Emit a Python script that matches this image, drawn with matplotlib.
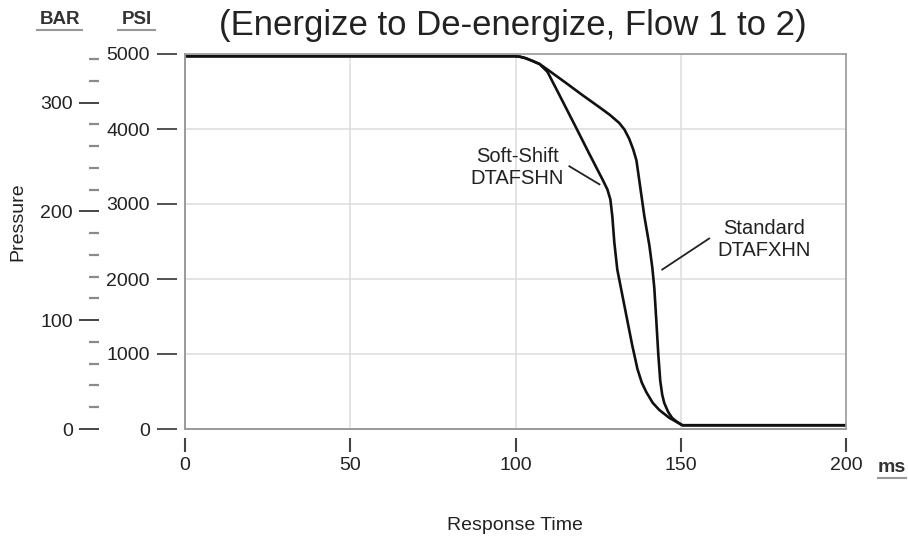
import matplotlib.pyplot as plt
from matplotlib.lines import Line2D
from matplotlib.ticker import MultipleLocator

plt.rcParams['font.family'] = ['Liberation Sans', 'DejaVu Sans']

# response curves (ms, psi)
soft_ms = [0, 100, 101.5, 103, 105, 107.3, 109.7, 113.3, 117.8, 122.4, 126.3, 127.8,
           128.7, 129.3, 129.9, 130.8, 132.3, 133.8, 135.3, 136.9, 138.2, 139.6, 141.5,
           143.5, 146.5, 149.5, 150.5, 200]
soft_psi = [4970, 4970, 4962, 4945, 4910, 4866, 4760, 4452, 4064, 3663, 3329, 3195,
            3061, 2834, 2487, 2126, 1790, 1455, 1120, 800, 620, 490, 350,
            254, 150, 75, 50, 50]

std_ms = [0, 100, 101.5, 103, 105, 107.3, 110.3, 115.4, 120, 125.4, 128.5, 131.4, 133,
          134.4, 135.6, 136.6, 137.5, 139.0, 140.5, 141.4, 142.0, 142.6, 143.2, 143.8,
          144.4, 145.0, 146.2, 147.4, 148.9, 150.5, 200]
std_psi = [4970, 4970, 4962, 4945, 4910, 4866, 4773, 4610, 4460, 4290, 4190, 4080, 3990,
           3870, 3730, 3580, 3300, 2834, 2450, 2150, 1880, 1450, 1000, 640,
           455, 348, 227, 147, 94, 50, 50]

x_ticks = [0, 50, 100, 150, 200]
psi_ticks = [0, 1000, 2000, 3000, 4000, 5000]
bar_ticks = [0, 100, 200, 300]
PSI_PER_BAR = 14.5038

TXT = '#222222'
FRAME = '#9a9a9a'

fig = plt.figure(figsize=(9.08, 5.44), dpi=100)
ax = fig.add_axes([185 / 908, 1 - 429 / 544, 661 / 908, 375 / 544])

ax.plot(soft_ms, soft_psi, color='#111111', lw=1.9, solid_joinstyle='round')
ax.plot(std_ms, std_psi, color='#111111', lw=1.9, solid_joinstyle='round')

ax.set_xlim(0, 200)
ax.set_ylim(0, 5000)
ax.set_xticks(x_ticks)
ax.set_yticks(psi_ticks)
ax.grid(color='#dcdcdc', lw=1.1)
ax.set_axisbelow(True)

# ticks stand off from the frame
ax.spines['left'].set_position(('outward', 6))
ax.spines['bottom'].set_position(('outward', 6.5))
ax.spines['left'].set_visible(False)
ax.spines['bottom'].set_visible(False)
for s in ['top', 'right']:
    ax.spines[s].set_color(FRAME)
    ax.spines[s].set_linewidth(1.2)
ax.axvline(0, color=FRAME, lw=1.4, clip_on=False)
ax.axhline(0, color=FRAME, lw=1.4, clip_on=False)

ax.tick_params(axis='x', direction='out', length=10, width=1.5, color='#444444',
               pad=4, labelsize=14, labelcolor=TXT)
ax.tick_params(axis='y', direction='out', length=14.4, width=1.3, color='#444444',
               pad=5, labelsize=14, labelcolor=TXT)

# BAR scale
ax2 = ax.twinx()
ax2.set_ylim(0, 5000 / PSI_PER_BAR)
ax2.yaxis.tick_left()
for s in ax2.spines.values():
    s.set_visible(False)
ax2.spines['left'].set_position(('outward', 62))
ax2.set_yticks(bar_ticks)
ax2.yaxis.set_minor_locator(MultipleLocator(20))
ax2.tick_params(axis='y', which='major', length=14.4, width=1.4, color='#444444',
                pad=4.3, labelsize=14, labelcolor=TXT)
ax2.tick_params(axis='y', which='minor', length=7, width=1.6, color='#8a8a8a')

# curve labels
ax.text(100.5, 3480, 'Soft-Shift\nDTAFSHN', ha='center', va='center', fontsize=14.5,
        color=TXT, linespacing=1.2)
ax.plot([116.3, 125.4], [3503, 3262], color=TXT, lw=1.3)
ax.text(175.2, 2527, 'Standard\nDTAFXHN', ha='center', va='center', fontsize=14.5,
        color=TXT, linespacing=1.2)
ax.plot([158.6, 144.4], [2540, 2126], color=TXT, lw=1.3)

fig.text(513 / 908, 1 - 25 / 544, '(Energize to De-energize, Flow 1 to 2)',
         ha='center', va='center', fontsize=25, color=TXT)
fig.text(18 / 908, 1 - 222 / 544, 'Pressure', rotation=90, ha='center', va='center',
         fontsize=14, color=TXT)
fig.text(515 / 908, 1 - 525 / 544, 'Response Time', ha='center', va='center',
         fontsize=14, color=TXT)

# underlined unit labels
fig.text(60 / 908, 1 - 20 / 544, 'BAR', ha='center', va='center', fontsize=13.5,
         weight='bold', color='#333333')
fig.text(137 / 908, 1 - 20 / 544, 'PSI', ha='center', va='center', fontsize=13.5,
         weight='bold', color='#333333')
fig.text(892 / 908, 1 - 467 / 544, 'ms', ha='center', va='center', fontsize=14,
         weight='bold', color='#333333')
for x0, x1, yy in [(37, 82, 30), (118, 155, 30), (878, 906, 478)]:
    fig.add_artist(Line2D([x0 / 908, x1 / 908], [1 - yy / 544] * 2,
                          transform=fig.transFigure, color='#999999', lw=1.5))

fig.savefig('out.png', dpi=100)
